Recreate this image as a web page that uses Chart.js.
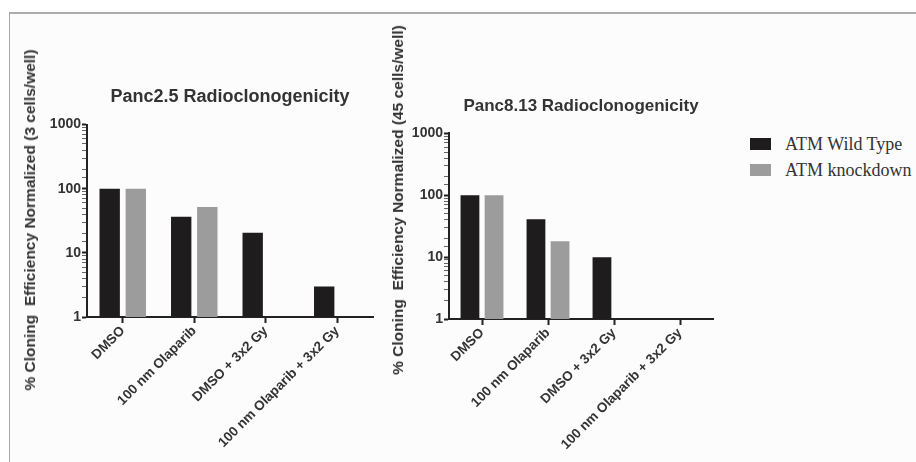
<!DOCTYPE html>
<html>
<head>
<meta charset="utf-8">
<script src="https://cdn.jsdelivr.net/npm/chart.js@4/dist/chart.umd.min.js"></script>
<style>
  html, body { margin: 0; padding: 0; background: #ffffff; }
  #stage { position: relative; width: 916px; height: 462px; overflow: hidden; }
  #frame {
    position: absolute; left: 9px; top: 12px; right: 0; bottom: 0;
    border-left: 1px solid #a9a9a9; border-top: 2px solid #acacac;
    background: #fcfcfc;
  }
  canvas { position: absolute; top: 0; }
  #leftChart { left: 0; }
  #rightChart { left: 400px; }
  .ytitle {
    position: absolute; white-space: pre; transform: translate(-50%, -50%) rotate(-90deg);
    font: bold 15.5px "Liberation Sans", Arial, sans-serif; color: #333;
  }
  #legend { position: absolute; left: 750px; top: 131px; }
  .legend-row { display: flex; align-items: center; height: 26px; }
  .legend-box { width: 21px; height: 12px; margin-right: 14px; }
  .legend-text { font: 18px "Liberation Serif", "Times New Roman", serif; color: #333; }
</style>
</head>
<body>
<div id="stage">
  <div id="frame"></div>
  <canvas id="leftChart" width="400" height="462"></canvas>
  <canvas id="rightChart" width="330" height="462"></canvas>
  <div class="ytitle" style="left:30px; top:220px;">% Cloning  Efficiency Normalized (3 cells/well)</div>
  <div class="ytitle" style="left:398px; top:200px;">% Cloning  Efficiency Normalized (45 cells/well)</div>
  <div id="legend"></div>
</div>
<script>
const categories = ["DMSO", "100 nm Olaparib", "DMSO + 3x2 Gy", "100 nm Olaparib + 3x2 Gy"];
const seriesNames = ["ATM Wild Type", "ATM knockdown"];
const seriesColors = ["#1e1c1d", "#9c9c9c"];

const panc25WildType = [100, 36.5, 20.5, 3];
const panc25Knockdown = [100, 52, null, null];
const panc813WildType = [100, 41, 10, null];
const panc813Knockdown = [100, 18, null, null];

const yTickLabels = [1, 10, 100, 1000];

const FONT = "'Liberation Sans', Arial, sans-serif";
const INK = "#333333";
const AXIS = "#222222";

function buildDatasets(wild, knock) {
  return [wild, knock].map((data, i) => ({
    label: seriesNames[i],
    data,
    backgroundColor: seriesColors[i],
    borderWidth: 0,
    categoryPercentage: 0.73,
    barPercentage: 0.78,
  }));
}

function makeChart(id, opts) {
  return new Chart(document.getElementById(id), {
    type: "bar",
    data: {
      labels: categories,
      datasets: buildDatasets(opts.wild, opts.knock),
    },
    options: {
      responsive: false,
      animation: false,
      layout: {
        padding: { left: opts.padLeft, right: opts.padRight, top: 0, bottom: 0 },
      },
      plugins: {
        legend: { display: false },
        tooltip: { enabled: false },
        title: {
          display: true,
          text: opts.title,
          fullSize: false,
          color: INK,
          font: { family: FONT, size: opts.titleSize, weight: "bold" },
          padding: { top: opts.titleTop, bottom: opts.titleBottom },
        },
      },
      scales: {
        x: {
          type: "category",
          afterFit(scale) { scale.height = opts.xHeight; },
          border: { display: true, color: AXIS, width: 2 },
          grid: {
            offset: false,
            drawOnChartArea: false,
            tickLength: 6,
            tickWidth: 2,
            tickColor: AXIS,
          },
          ticks: {
            autoSkip: false,
            minRotation: 45,
            maxRotation: 45,
            padding: 0,
            color: INK,
            font: { family: FONT, size: 13.5, weight: "bold" },
          },
        },
        y: {
          type: "logarithmic",
          min: 1,
          max: 1000,
          afterFit(scale) { scale.width = opts.yWidth; },
          border: { display: true, color: AXIS, width: 2 },
          grid: {
            drawOnChartArea: false,
            tickLength: 5,
            tickColor(ctx) {
              return ctx.tick && yTickLabels.includes(ctx.tick.value) ? AXIS : "#666666";
            },
            tickWidth(ctx) {
              return ctx.tick && yTickLabels.includes(ctx.tick.value) ? 2 : 1;
            },
          },
          ticks: {
            autoSkip: false,
            padding: 1,
            color: INK,
            font: { family: FONT, size: 14, weight: "bold" },
            callback(value) {
              return yTickLabels.includes(value) ? String(value) : "";
            },
          },
        },
      },
    },
  });
}

makeChart("leftChart", {
  wild: panc25WildType,
  knock: panc25Knockdown,
  title: "Panc2.5 Radioclonogenicity",
  titleSize: 18,
  titleTop: 86,
  titleBottom: 17,
  padLeft: 45,
  padRight: 27,
  yWidth: 42,
  xHeight: 145,
});

makeChart("rightChart", {
  wild: panc813WildType,
  knock: panc813Knockdown,
  title: "Panc8.13 Radioclonogenicity",
  titleSize: 17,
  titleTop: 96,
  titleBottom: 17,
  padLeft: 10,
  padRight: 17,
  yWidth: 39,
  xHeight: 143,
});

const legendEl = document.getElementById("legend");
legendEl.innerHTML = seriesNames
  .map((name, i) => `
    <div class="legend-row">
      <div class="legend-box" style="background:${seriesColors[i]}"></div>
      <div class="legend-text">${name}</div>
    </div>`)
  .join("");
</script>
</body>
</html>
